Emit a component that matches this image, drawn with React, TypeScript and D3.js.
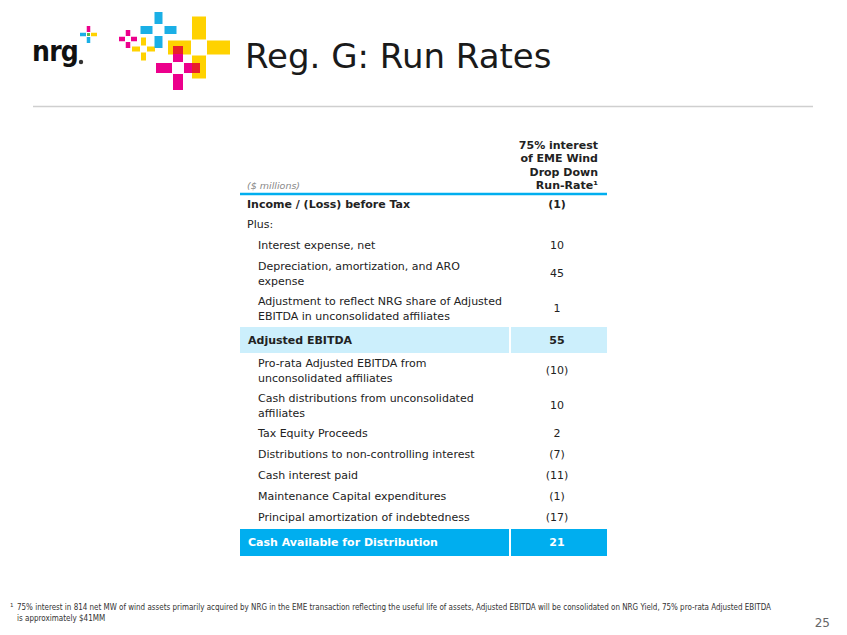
import React from 'react';
import * as d3 from 'd3';

const rowLabels: string[][] = [
  ['Income / (Loss) before Tax'],
  ['Plus:'],
  ['Interest expense, net'],
  ['Depreciation, amortization, and ARO', 'expense'],
  ['Adjustment to reflect NRG share of Adjusted', 'EBITDA in unconsolidated affiliates'],
  ['Adjusted EBITDA'],
  ['Pro-rata Adjusted EBITDA from', 'unconsolidated affiliates'],
  ['Cash distributions from unconsolidated', 'affiliates'],
  ['Tax Equity Proceeds'],
  ['Distributions to non-controlling interest'],
  ['Cash interest paid'],
  ['Maintenance Capital expenditures'],
  ['Principal amortization of indebtedness'],
  ['Cash Available for Distribution'],
];
const rowValues: (number | null)[] = [-1, null, 10, 45, 1, 55, -10, 10, 2, -7, -11, -1, -17, 21];
const rowKinds = ['bold', 'plain', 'indent', 'indent', 'indent', 'subtotal', 'indent', 'indent',
  'indent', 'indent', 'indent', 'indent', 'indent', 'total'];

const headerLines = ['75% interest', 'of EME Wind', 'Drop Down', 'Run-Rate\u00b9'];
const unitLabel = '($ millions)';
const title = 'Reg. G: Run Rates';
const footnoteLines = [
  '75% interest in 814 net MW of wind assets primarily acquired by NRG in the EME transaction reflecting the useful life of assets, Adjusted EBITDA will be consolidated on NRG Yield, 75% pro-rata Adjusted EBITDA',
  'is approximately $41MM',
];
const pageNumber = '25';

const BLUE = '#00AEEF';
const LIGHT = '#CCEFFC';
const FONT = '"DejaVu Sans", Verdana, sans-serif';

const fmt = (v: number | null) => (v === null ? '' : v < 0 ? `(${Math.abs(v)})` : `${v}`);

function rowHeight(i: number) {
  const k = rowKinds[i];
  if (k === 'subtotal') return 26;
  if (k === 'total') return 27;
  if (k === 'bold') return 20;
  return rowLabels[i].length > 1 ? 35 : 21;
}

function Logo() {
  // decorative crosses
  const cross = (cx: number, cy: number, arm: number, w: number, gap: number, colors: string[]) => {
    const h = w / 2;
    return (
      <g>
        <rect x={cx - h} y={cy - gap - arm} width={w} height={arm} fill={colors[0]} />
        <rect x={cx + gap} y={cy - h} width={arm} height={w} fill={colors[1]} />
        <rect x={cx - h} y={cy + gap} width={w} height={arm} fill={colors[2]} />
        <rect x={cx - gap - arm} y={cy - h} width={arm} height={w} fill={colors[3]} />
      </g>
    );
  };
  const pink = '#EC008C', yel = '#FFD200', blu = '#1AAFE6';
  return (
    <g>
      <text x={32} y={61} fontFamily='"DejaVu Sans Condensed", "DejaVu Sans", sans-serif' fontWeight="bold"
        fontSize={28} letterSpacing={-0.8} fill="#111">nrg</text>
      <circle cx={81} cy={62} r={2.2} fill="#333" />
      {cross(88.5, 34.5, 6, 3.5, 2.5, [pink, yel, blu, blu])}
      <rect x={87} y={33} width={3} height={3} fill="#5DB848" />
      {cross(128, 39, 6, 4.5, 3, [pink, pink, pink, pink])}
      {cross(143.5, 49, 8, 5, 3.5, [yel, yel, yel, yel])}
      {cross(158.5, 30, 12, 8, 6, [blu, blu, blu, blu])}
      {cross(199, 47.5, 23, 14, 8, [yel, yel, yel, yel])}
      {cross(178, 68, 16, 10, 6, [pink, pink, pink, pink])}
      <rect x={173} y={46} width={10} height={8} fill="#E8202A" />
      <rect x={192} y={63} width={8} height={10} fill="#E8202A" />
    </g>
  );
}

export default function App() {
  const heights = rowLabels.map((_, i) => rowHeight(i));
  const tops = [194, ...Array.from(d3.cumsum(heights)).map((c) => 194 + c)];
  // small gaps before the shaded bands
  const y0 = tops.map((t, i) => t + (i >= 5 ? 1 : 0) + (i >= 13 ? 1 : 0));

  const x = d3.scaleLinear().domain([0, 1]).range([240, 607]);
  const split = 509;
  const valueX = 557;

  return (
    <svg width={847} height={635} style={{ position: 'absolute', left: 0, top: 0, background: '#fff' }}>
      <rect width={847} height={635} fill="#fff" />
      <Logo />
      <text x={245} y={68} fontFamily={FONT} fontSize={34} fill="#1a1a1a">{title}</text>
      <line x1={33} x2={813} y1={106.5} y2={106.5} stroke="#cfcfcf" strokeWidth={1.5} />

      {headerLines.map((l, i) => (
        <text key={l} x={598} y={149 + i * 13.3} textAnchor="end" fontFamily={FONT} fontWeight="bold"
          fontSize={11} fill="#222">{l}</text>
      ))}
      <text x={247} y={189} fontFamily={FONT} fontStyle="italic" fontSize={9.5} fill="#888">{unitLabel}</text>
      <line x1={x(0)} x2={x(1)} y1={194} y2={194} stroke={BLUE} strokeWidth={2.5} />

      {rowLabels.map((lines, i) => {
        const kind = rowKinds[i];
        const top = y0[i];
        const h = heights[i];
        const cy = top + h / 2;
        const band = kind === 'subtotal' || kind === 'total';
        const bold = kind !== 'plain' && kind !== 'indent';
        const color = kind === 'total' ? '#fff' : '#222';
        const tx = kind === 'indent' ? 258 : 247;
        const lh = 14.5;
        return (
          <g key={i}>
            {band && (
              <>
                <rect x={x(0)} y={top} width={split - x(0)} height={h} fill={kind === 'total' ? BLUE : LIGHT} />
                <rect x={split + 2} y={top} width={x(1) - split - 2} height={h} fill={kind === 'total' ? BLUE : LIGHT} />
              </>
            )}
            {lines.map((l, j) => (
              <text key={j} x={band ? 248 : tx} y={cy + (j - (lines.length - 1) / 2) * lh}
                dy="0.35em" fontFamily={FONT} fontSize={11} fontWeight={bold ? 'bold' : 'normal'} fill={color}>{l}</text>
            ))}
            <text x={valueX} y={cy} dy="0.35em" textAnchor="middle" fontFamily={FONT} fontSize={11}
              fontWeight={bold ? 'bold' : 'normal'} fill={color}>{fmt(rowValues[i])}</text>
          </g>
        );
      })}

      <text x={10} y={607} fontFamily={FONT} fontSize={5.5} fill="#333">1</text>
      {footnoteLines.map((l, i) => (
        <text key={i} x={17} y={610 + i * 11} fontFamily='"Liberation Sans Narrow", "DejaVu Sans Condensed", sans-serif'
          fontSize={8} fill="#333" {...(i === 0 ? { textLength: 754, lengthAdjust: 'spacingAndGlyphs' } : {})}>{l}</text>
      ))}
      <text x={830} y={627} textAnchor="end" fontFamily={FONT} fontSize={12} fill="#666">{pageNumber}</text>
    </svg>
  );
}
